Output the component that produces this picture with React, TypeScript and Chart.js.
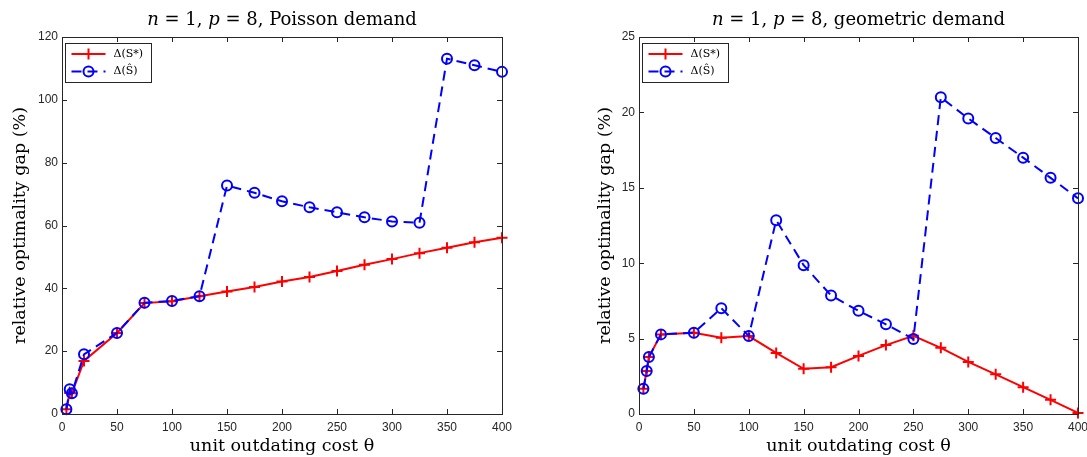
import React, { useEffect, useRef } from "react";
import { Chart, registerables } from "chart.js";

Chart.register(...registerables);

// ---------- data ----------
const thetaValues = [4, 7, 9, 20, 50, 75, 100, 125, 150, 175, 200, 225, 250, 275, 300, 325, 350, 375, 400];

const poissonOptimal = [1.5, 6.7, 6.6, 16.9, 25.8, 35.3, 35.9, 37.5, 39.0, 40.4, 42.2, 43.6, 45.5, 47.5, 49.3, 51.2, 52.9, 54.7, 56.1];
const poissonHeuristic = [1.5, 7.9, 6.6, 19.0, 25.8, 35.4, 36.0, 37.5, 72.7, 70.4, 67.7, 65.8, 64.2, 62.6, 61.3, 60.9, 113.1, 111.0, 108.9];

const geometricOptimal = [1.67, 2.85, 3.78, 5.28, 5.39, 5.05, 5.17, 4.05, 3.0, 3.1, 3.85, 4.57, 5.19, 4.39, 3.45, 2.63, 1.78, 0.94, 0.07];
const geometricHeuristic = [1.67, 2.85, 3.78, 5.28, 5.39, 7.02, 5.17, 12.85, 9.87, 7.86, 6.84, 5.95, 4.97, 21.0, 19.6, 18.3, 17.0, 15.66, 14.3];

const seriesLabels = ["\u0394(S*)", "\u0394(\u015C)"];
const titles = ["n = 1, p = 8, Poisson demand", "n = 1, p = 8, geometric demand"];
const xAxisTitle = "unit outdating cost \u03B8";
const yAxisTitle = "relative optimality gap (%)";

const AXIS_COLOR = "#262626";
const RED = "#ff0000";
const BLUE = "#0000ff";
const SERIF = "'DejaVu Serif'";
const LABEL_SIZE = 17.5;
const TICK_SIZE = 12;

// ---------- plugin: title with math italics ----------
const mathTitle = {
  id: "mathTitle",
  afterDraw(chart: any, _args: any, opts: any) {
    const text: string = opts.text || "";
    const { ctx, chartArea } = chart;
    const parts = text.split(/(\b[a-z]\b(?= =))/).filter((p) => p.length > 0);
    const size = 18;
    const fontN = `${size}px ${SERIF}`;
    const fontI = `italic ${size}px ${SERIF}`;
    ctx.save();
    let total = 0;
    const widths = parts.map((p) => {
      ctx.font = /^[a-z]$/.test(p) ? fontI : fontN;
      const w = ctx.measureText(p).width;
      total += w;
      return w;
    });
    let x = (chartArea.left + chartArea.right) / 2 - total / 2;
    ctx.fillStyle = "#000";
    ctx.textBaseline = "middle";
    ctx.textAlign = "left";
    parts.forEach((p, i) => {
      ctx.font = /^[a-z]$/.test(p) ? fontI : fontN;
      ctx.fillText(p, x, 20);
      x += widths[i];
    });
    ctx.restore();
  },
};

// ---------- plugin: box, inner ticks, in-plot legend ----------
const matlabDecor = {
  id: "matlabDecor",
  afterDraw(chart: any) {
    const { ctx, chartArea } = chart;
    const { left, right, top, bottom } = chartArea;
    ctx.save();
    ctx.strokeStyle = AXIS_COLOR;
    ctx.lineWidth = 1;
    ctx.strokeRect(Math.round(left) + 0.5, Math.round(top) + 0.5, Math.round(right - left), Math.round(bottom - top));
    const tl = 5;
    const xs = chart.scales.x;
    const ys = chart.scales.y;
    ctx.beginPath();
    xs.ticks.forEach((t: any) => {
      const px = Math.round(xs.getPixelForValue(t.value)) + 0.5;
      ctx.moveTo(px, bottom);
      ctx.lineTo(px, bottom - tl);
      ctx.moveTo(px, top);
      ctx.lineTo(px, top + tl);
    });
    ys.ticks.forEach((t: any) => {
      const py = Math.round(ys.getPixelForValue(t.value)) + 0.5;
      ctx.moveTo(left, py);
      ctx.lineTo(left + tl, py);
      ctx.moveTo(right, py);
      ctx.lineTo(right - tl, py);
    });
    ctx.stroke();

    // legend
    const bx = Math.round(left) + 3.5;
    const by = Math.round(top) + 6.5;
    const bw = 86;
    const bh = 39;
    ctx.fillStyle = "#ffffff";
    ctx.fillRect(bx, by, bw, bh);
    ctx.strokeStyle = AXIS_COLOR;
    ctx.lineWidth = 1;
    ctx.strokeRect(bx, by, bw, bh);
    const rows = [10.5, 28];
    chart.data.datasets.forEach((ds: any, i: number) => {
      const y = by + rows[i];
      const x0 = bx + 6;
      const x1 = bx + 40;
      ctx.save();
      ctx.strokeStyle = ds.borderColor;
      ctx.lineWidth = ds.borderWidth;
      ctx.setLineDash(ds.borderDash || []);
      ctx.beginPath();
      ctx.moveTo(x0, y);
      ctx.lineTo(x1, y);
      ctx.stroke();
      ctx.setLineDash([]);
      const mx = (x0 + x1) / 2;
      ctx.lineWidth = ds.pointBorderWidth;
      ctx.beginPath();
      if (ds.pointStyle === "cross") {
        ctx.moveTo(mx - ds.pointRadius, y);
        ctx.lineTo(mx + ds.pointRadius, y);
        ctx.moveTo(mx, y - ds.pointRadius);
        ctx.lineTo(mx, y + ds.pointRadius);
      } else {
        ctx.arc(mx, y, ds.pointRadius, 0, Math.PI * 2);
      }
      ctx.stroke();
      ctx.restore();
      ctx.fillStyle = "#000";
      ctx.font = `11px ${SERIF}`;
      ctx.textBaseline = "middle";
      ctx.textAlign = "left";
      ctx.fillText(ds.label, bx + 48, y);
    });
    ctx.restore();
  },
};

function makeConfig(
  title: string,
  optimal: number[],
  heuristic: number[],
  yMax: number,
  yStep: number,
  yWidth: number,
  rightPad: number,
  yTitlePad: number
): any {
  return {
    type: "line",
    data: {
      labels: thetaValues,
      datasets: [
        {
          label: seriesLabels[0],
          data: thetaValues.map((x, i) => ({ x, y: optimal[i] })),
          borderColor: RED,
          backgroundColor: RED,
          borderWidth: 2,
          pointStyle: "cross",
          pointRadius: 5.5,
          pointBorderWidth: 2,
          pointBorderColor: RED,
          pointBackgroundColor: "transparent",
          tension: 0,
          clip: false,
          order: 1,
        },
        {
          label: seriesLabels[1],
          data: thetaValues.map((x, i) => ({ x, y: heuristic[i] })),
          borderColor: BLUE,
          backgroundColor: "transparent",
          borderWidth: 2,
          borderDash: [10, 6],
          pointStyle: "circle",
          pointRadius: 5,
          pointBorderWidth: 2,
          pointBorderColor: BLUE,
          pointBackgroundColor: "transparent",
          tension: 0,
          clip: false,
          order: 0,
        },
      ],
    },
    options: {
      animation: false,
      responsive: false,
      maintainAspectRatio: false,
      layout: { padding: { left: 0, right: rightPad, top: 37, bottom: 0 } },
      plugins: {
        legend: { display: false },
        tooltip: { enabled: false },
        title: { display: false },
        mathTitle: { text: title },
      },
      scales: {
        x: {
          type: "linear",
          min: 0,
          max: 400,
          grid: { display: false, drawTicks: false },
          border: { display: false },
          ticks: {
            stepSize: 50,
            color: AXIS_COLOR,
            padding: 6,
            font: { family: "'Liberation Sans'", size: TICK_SIZE },
            maxRotation: 0,
          },
          title: {
            display: true,
            text: xAxisTitle,
            color: "#000",
            font: { family: SERIF, size: LABEL_SIZE },
            padding: { top: 0, bottom: 0 },
          },
          afterFit: (s: any) => {
            s.height = 43;
            s.paddingLeft = 0;
            s.paddingRight = 0;
          },
        },
        y: {
          type: "linear",
          min: 0,
          max: yMax,
          grid: { display: false, drawTicks: false },
          border: { display: false },
          ticks: {
            stepSize: yStep,
            color: AXIS_COLOR,
            padding: 4,
            font: { family: "'Liberation Sans'", size: TICK_SIZE },
          },
          title: {
            display: true,
            text: yAxisTitle,
            color: "#000",
            font: { family: SERIF, size: LABEL_SIZE },
            padding: { top: yTitlePad, bottom: 0 },
          },
          afterFit: (s: any) => {
            s.width = yWidth;
            s.paddingTop = 0;
            s.paddingBottom = 0;
          },
        },
      },
    },
    plugins: [matlabDecor, mathTitle],
  };
}

function ChartCanvas({ config, left, width }: { config: any; left: number; width: number }) {
  const ref = useRef<HTMLCanvasElement | null>(null);
  useEffect(() => {
    if (!ref.current) return;
    const chart = new Chart(ref.current, config);
    return () => chart.destroy();
  }, [config]);
  return (
    <div style={{ position: "absolute", left, top: 0, width, height: 457 }}>
      <canvas ref={ref} width={width} height={457} style={{ display: "block", width, height: 457 }} />
    </div>
  );
}

const leftConfig = makeConfig(titles[0], poissonOptimal, poissonHeuristic, 120, 20, 62, 38, 10);
const rightConfig = makeConfig(titles[1], geometricOptimal, geometricHeuristic, 25, 5, 99, 9, 55);

export default function App() {
  return (
    <div style={{ position: "absolute", left: 0, top: 0, width: 1087, height: 457, background: "#fff" }}>
      <ChartCanvas config={leftConfig} left={0} width={540} />
      <ChartCanvas config={rightConfig} left={540} width={547} />
    </div>
  );
}
